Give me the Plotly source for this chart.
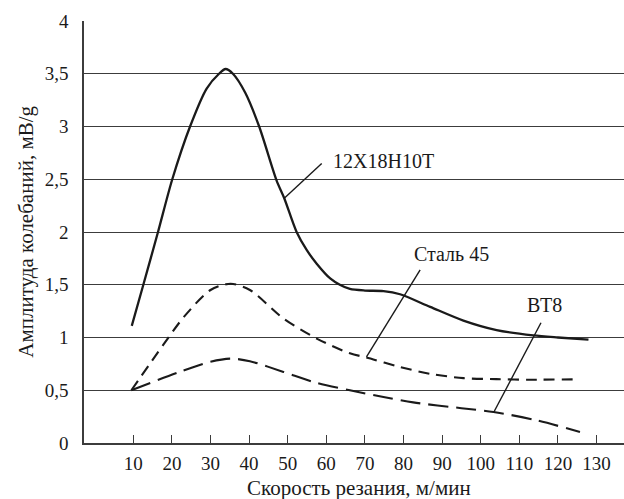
import plotly.graph_objects as go

# ---- data ----
x_12x18 = [9.6, 12.6, 16.4, 20.1, 24.7, 29.0, 32.2, 33.9, 35.8, 39.0, 42.6, 47.1, 49.1, 52.3, 54.9, 57.5, 61.0, 63.5, 66.1, 70.0, 74.8, 79.1, 86.9, 95.5, 104.1, 113.6, 120.0, 127.9]
y_12x18 = [1.11, 1.5, 2.0, 2.5, 3.0, 3.36, 3.5, 3.545, 3.5, 3.32, 3.0, 2.49, 2.32, 2.0, 1.83, 1.70, 1.56, 1.50, 1.46, 1.445, 1.44, 1.41, 1.29, 1.16, 1.07, 1.02, 1.0, 0.98]

x_st45 = [9.5, 17.7, 23.1, 30.0, 35.2, 40.2, 48.9, 57.5, 66.1, 70.4, 79.1, 87.0, 95.5, 104.0, 112.8, 124.8]
y_st45 = [0.5, 0.927, 1.195, 1.45, 1.51, 1.45, 1.18, 0.99, 0.85, 0.81, 0.72, 0.655, 0.615, 0.605, 0.60, 0.604]

x_vt8 = [9.5, 21.7, 30.0, 35.2, 40.2, 48.9, 57.5, 66.1, 74.8, 82.5, 95.0, 103.3, 114.5, 125.7]
y_vt8 = [0.5, 0.67, 0.77, 0.80, 0.775, 0.674, 0.57, 0.50, 0.436, 0.385, 0.33, 0.294, 0.215, 0.104]

x_ticks = [10, 20, 30, 40, 50, 60, 70, 80, 90, 100, 110, 120, 130]
y_ticks = [0, 0.5, 1, 1.5, 2, 2.5, 3, 3.5, 4]
y_ticktext = ["0", "0,5", "1", "1,5", "2", "2,5", "3", "3,5", "4"]

labels = ["12X18H10T", "Сталь 45", "ВТ8"]
label_pos = [(61.2, 2.675, "left"), (92.4, 1.79, "center"), (116.5, 1.31, "center")]
leaders = [((58.8, 2.65), (49.1, 2.32)), ((84.3, 1.64), (70.4, 0.816)), ((115.6, 1.14), (103.4, 0.294))]

x_title = "Скорость резания, м/мин"
y_title = "Амплитуда колебаний, мВ/g"

FONT = "Times New Roman, Liberation Serif, DejaVu Serif, serif"
INK = "#1a1a1a"
GRID = "#3c3c3c"

fig = go.Figure()
fig.add_trace(go.Scatter(x=x_12x18, y=y_12x18, mode="lines", name=labels[0],
                         line=dict(color=INK, width=2.3, shape="spline", smoothing=0.8)))
fig.add_trace(go.Scatter(x=x_st45, y=y_st45, mode="lines", name=labels[1],
                         line=dict(color=INK, width=2.1, shape="spline", smoothing=0.8, dash="11px,7px")))
fig.add_trace(go.Scatter(x=x_vt8, y=y_vt8, mode="lines", name=labels[2],
                         line=dict(color=INK, width=2.1, shape="spline", smoothing=0.8, dash="20px,8px")))

for (p0, p1) in leaders:
    fig.add_shape(type="line", x0=p0[0], y0=p0[1], x1=p1[0], y1=p1[1],
                  xref="x", yref="y", line=dict(color=INK, width=1.4))

for txt, (lx, ly, anc) in zip(labels, label_pos):
    fig.add_annotation(x=lx, y=ly, text=txt, showarrow=False, xanchor=anc, yanchor="middle",
                       font=dict(family=FONT, size=20, color=INK))

fig.add_annotation(x=0.51, xref="paper", y=-0.107, yref="paper", text=x_title, showarrow=False,
                   xanchor="center", yanchor="middle", font=dict(family=FONT, size=21, color=INK))
fig.add_annotation(x=-0.109, xref="paper", y=0.501, yref="paper", text=y_title, showarrow=False,
                   textangle=-90, xanchor="center", yanchor="middle", font=dict(family=FONT, size=21, color=INK))

fig.update_layout(
    width=624, height=499,
    margin=dict(l=84, r=0, t=21, b=56, autoexpand=False),
    paper_bgcolor="white", plot_bgcolor="white",
    showlegend=False,
    font=dict(family=FONT, size=19, color=INK),
    xaxis=dict(range=[-2.77, 137.1], tickvals=x_ticks, ticks="inside", ticklen=8, tickwidth=1.4,
               tickcolor=GRID, showgrid=False, zeroline=False, showline=True, linecolor=GRID,
               linewidth=1.6, ticklabelstandoff=2, automargin=False, fixedrange=True),
    yaxis=dict(range=[0, 4], tickvals=y_ticks, ticktext=y_ticktext, ticks="", showgrid=True,
               gridcolor=GRID, gridwidth=1.4, zeroline=False, showline=True, linecolor=GRID,
               linewidth=1.6, ticklabelstandoff=10, automargin=False, fixedrange=True),
)

fig.write_html("out.html", config={"displayModeBar": False},
               post_script="document.body.style.margin='0';document.body.style.padding='0';")
